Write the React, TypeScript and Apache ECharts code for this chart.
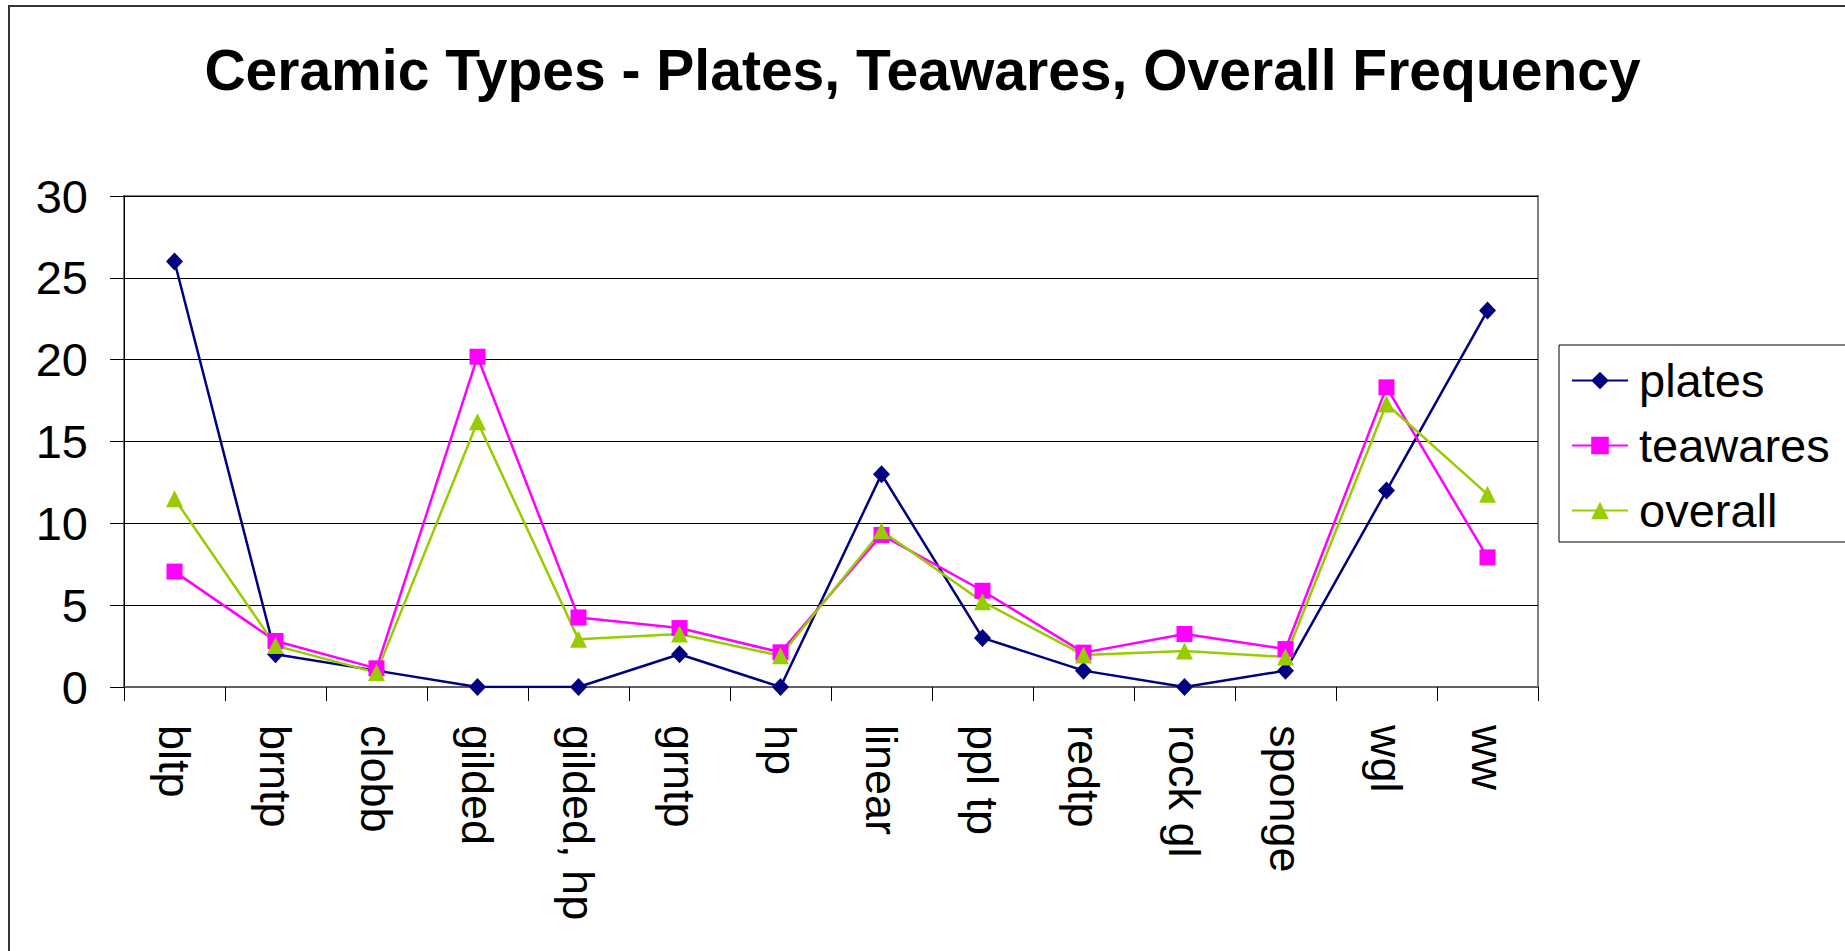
import React, { useEffect, useRef } from "react";
import * as echarts from "echarts";

const categories = ["bltp", "brntp", "clobb", "gilded", "gilded, hp", "grntp", "hp", "linear", "ppl tp", "redtp", "rock gl", "sponge", "wgl", "ww"];
const plates = [26, 2, 1, 0, 0, 2, 0, 13, 3, 1, 0, 1, 12, 23];
const teawares = [7.05, 2.81, 1.14, 20.18, 4.25, 3.6, 2.12, 9.29, 5.88, 2.1, 3.24, 2.32, 18.31, 7.92];
const overall = [11.5, 2.53, 0.88, 16.21, 2.91, 3.24, 1.91, 9.55, 5.21, 1.96, 2.2, 1.83, 17.29, 11.77];
const yTicks = { min: 0, max: 30, interval: 5 };
const titleText = "Ceramic Types - Plates, Teawares, Overall Frequency";

const FONT = "'Liberation Sans', Arial, sans-serif";

export default function App() {
  const ref = useRef<HTMLDivElement>(null);
  useEffect(() => {
    if (!ref.current) return;
    const chart = echarts.init(ref.current, null, { renderer: "svg" });
    chart.setOption({
      animation: false,
      backgroundColor: "#fff",
      textStyle: { fontFamily: FONT, color: "#000" },
      title: {
        text: titleText,
        left: "center",
        top: 36,
        textStyle: { fontFamily: FONT, fontSize: 57, fontWeight: "bold", color: "#000" },
      },
      graphic: [
        {
          type: "rect",
          shape: { x: 9, y: 6, width: 1900, height: 1000 },
          style: { fill: "none", stroke: "#333", lineWidth: 2 },
          silent: true,
        },
      ],
      legend: {
        orient: "vertical",
        left: 1559,
        top: 345,
        borderColor: "#000",
        borderWidth: 1,
        padding: [12, 22, 8, 12],
        itemGap: 18,
        itemWidth: 56,
        itemHeight: 22,
        textStyle: { fontFamily: FONT, fontSize: 47, color: "#000", padding: [0, 0, 0, 6] },
        data: ["plates", "teawares", "overall"],
      },
      grid: {
        left: 124,
        top: 196,
        width: 1414,
        height: 491,
        show: true,
        borderColor: "#808080",
        borderWidth: 2,
        backgroundColor: "transparent",
      },
      xAxis: {
        type: "category",
        data: categories,
        boundaryGap: true,
        axisLine: { show: true, lineStyle: { color: "#606060", width: 2 } },
        axisTick: { show: true, length: 14, inside: false, lineStyle: { color: "#000", width: 1 } },
        axisLabel: {
          interval: 0,
          rotate: -90,
          margin: 38,
          fontSize: 45,
          fontFamily: FONT,
          color: "#000",
        },
      },
      yAxis: {
        type: "value",
        min: yTicks.min,
        max: yTicks.max,
        interval: yTicks.interval,
        axisLine: { show: true, lineStyle: { color: "#000", width: 1 } },
        axisTick: { show: true, length: 14, lineStyle: { color: "#000", width: 1 } },
        axisLabel: { fontSize: 47, fontFamily: FONT, color: "#000", margin: 36 },
        splitLine: { show: true, lineStyle: { color: "#000", width: 1 } },
      },
      series: [
        {
          name: "plates",
          type: "line",
          data: plates,
          symbol: "diamond",
          symbolSize: [17, 18],
          color: "#000080",
          lineStyle: { color: "#000080", width: 2.5 },
          itemStyle: { color: "#000080" },
        },
        {
          name: "teawares",
          type: "line",
          data: teawares,
          symbol: "rect",
          symbolSize: 16,
          color: "#FF00FF",
          lineStyle: { color: "#FF00FF", width: 2.5 },
          itemStyle: { color: "#FF00FF" },
        },
        {
          name: "overall",
          type: "line",
          data: overall,
          symbol: "triangle",
          symbolSize: 17,
          color: "#99CC00",
          lineStyle: { color: "#99CC00", width: 2.5 },
          itemStyle: { color: "#99CC00" },
        },
      ],
    });
    return () => chart.dispose();
  }, []);
  return (
    <div
      ref={ref}
      style={{ position: "fixed", left: 0, top: 0, width: 1845, height: 951, background: "#fff" }}
    />
  );
}
